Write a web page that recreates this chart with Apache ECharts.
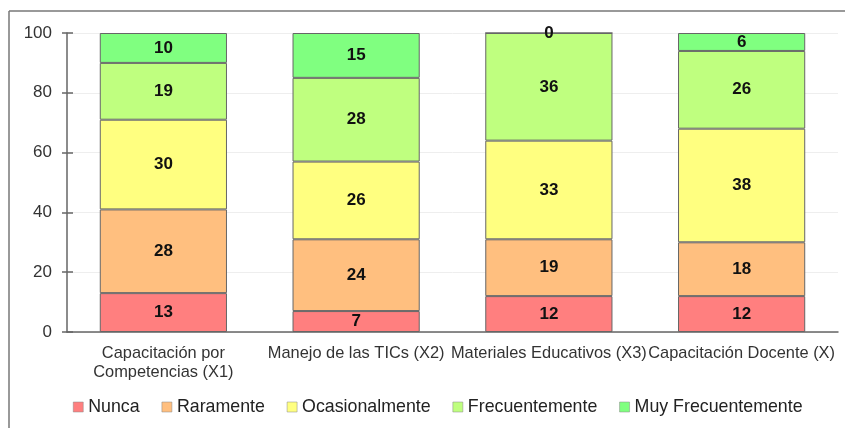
<!DOCTYPE html>
<html>
<head>
<meta charset="utf-8">
<script src="https://cdn.jsdelivr.net/npm/echarts@6/dist/echarts.min.js"></script>
<style>
  html, body { margin: 0; padding: 0; background: #fff; }
  #chart { width: 845px; height: 428px; }
</style>
</head>
<body>
<div id="chart"></div>
<script>
// Categories on the x axis
const categories = [
  'Capacitación por\nCompetencias (X1)',
  'Manejo de las TICs (X2)',
  'Materiales Educativos (X3)',
  'Capacitación Docente (X)'
];

// Stacked percentages per response level
const nunca = [13, 7, 12, 12];
const raramente = [28, 24, 19, 18];
const ocasionalmente = [30, 26, 33, 38];
const frecuentemente = [19, 28, 36, 26];
const muyFrecuentemente = [10, 15, 0, 6];

const seriesNames = ['Nunca', 'Raramente', 'Ocasionalmente', 'Frecuentemente', 'Muy Frecuentemente'];
const seriesData = [nunca, raramente, ocasionalmente, frecuentemente, muyFrecuentemente];
const seriesColors = ['#FF7F7F', '#FFBF7F', '#FFFF80', '#BFFF7F', '#80FF80'];

const yTicks = [0, 20, 40, 60, 80, 100];

const chart = echarts.init(document.getElementById('chart'), null, { renderer: 'canvas' });

const font = 'Liberation Sans, Arial, sans-serif';

chart.setOption({
  animation: false,
  backgroundColor: '#ffffff',
  textStyle: { fontFamily: font },
  graphic: [
    { type: 'line', shape: { x1: 9, y1: 11, x2: 845, y2: 11 }, style: { stroke: '#777', lineWidth: 1.5 } },
    { type: 'line', shape: { x1: 9, y1: 11, x2: 9, y2: 428 }, style: { stroke: '#777', lineWidth: 1.5 } }
  ],
  legend: {
    data: seriesNames,
    top: 393,
    left: 68,
    itemWidth: 10,
    itemHeight: 10,
    itemGap: 22,
    icon: 'rect',
    textStyle: { fontFamily: font, fontSize: 17.8, color: '#222', padding: [0, 0, 0, 0] },
    itemStyle: { borderColor: '#888', borderWidth: 0.5 }
  },
  grid: { left: 67, right: 7, top: 33, bottom: 96 },
  xAxis: {
    type: 'category',
    data: categories,
    axisLine: { lineStyle: { color: '#666', width: 1.5 } },
    axisTick: { show: false },
    axisLabel: { fontFamily: font, fontSize: 16.4, color: '#333', margin: 12, lineHeight: 19, interval: 0 }
  },
  yAxis: [
    {
      type: 'value',
      min: 0,
      max: 100,
      interval: 20,
      axisLine: { show: true, lineStyle: { color: '#666', width: 1.5 } },
      axisTick: { show: true, length: 5, lineStyle: { color: '#666', width: 1.5 } },
      axisLabel: {
        fontFamily: font, fontSize: 17, color: '#333', margin: 15,
        formatter: v => yTicks.includes(v) ? String(v) : ''
      },
      splitLine: { lineStyle: { color: '#eeeeee' } }
    },
    {
      type: 'value',
      min: 0,
      max: 100,
      interval: 20,
      position: 'left',
      axisLine: { show: false },
      axisTick: { show: true, inside: true, length: 6, lineStyle: { color: '#666', width: 1.5 } },
      axisLabel: { show: false },
      splitLine: { show: false }
    }
  ],
  series: seriesNames.map((name, i) => ({
    name,
    type: 'bar',
    stack: 'total',
    barWidth: '66%',
    data: seriesData[i],
    itemStyle: { color: seriesColors[i], borderColor: '#666', borderWidth: 1 },
    label: {
      show: true,
      position: 'inside',
      fontFamily: font,
      fontSize: 17,
      fontWeight: 'bold',
      color: '#111'
    }
  }))
});
</script>
</body>
</html>
